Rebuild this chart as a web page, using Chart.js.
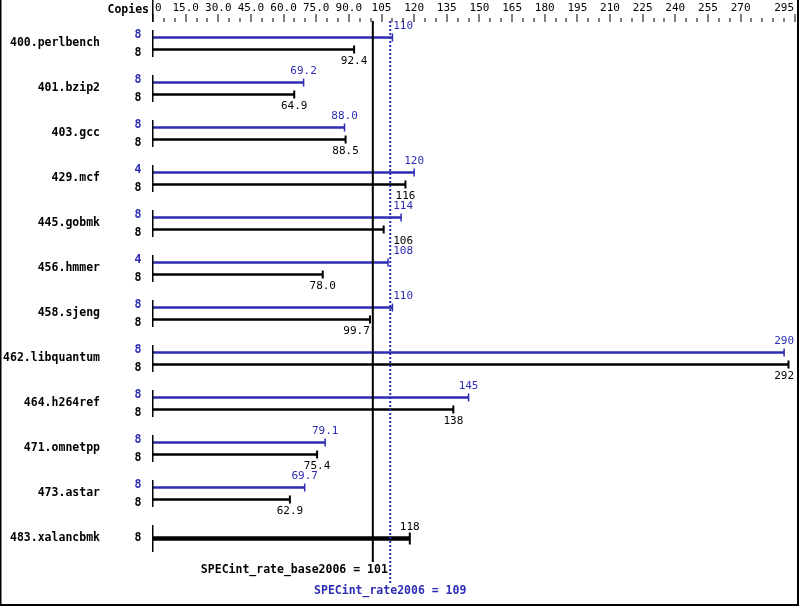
<!DOCTYPE html>
<html><head><meta charset="utf-8">
<script src="https://cdn.jsdelivr.net/npm/chart.js@4.4.0/dist/chart.umd.min.js"></script>
<style>html,body{margin:0;padding:0;background:#fff}#wrap{width:799px;height:606px;position:relative}</style>
</head><body><div id="wrap"><canvas id="c" width="799" height="606"></canvas></div>
<script>
const benchmarks = ['400.perlbench','401.bzip2','403.gcc','429.mcf','445.gobmk','456.hmmer','458.sjeng','462.libquantum','464.h264ref','471.omnetpp','473.astar','483.xalancbmk'];
const peakValues = [110, 69.2, 88.0, 120, 114, 108, 110, 290, 145, 79.1, 69.7, null];
const baseValues = [92.4, 64.9, 88.5, 116, 106, 78.0, 99.7, 292, 138, 75.4, 62.9, null];
const sharedValues = [null, null, null, null, null, null, null, null, null, null, null, 118];
const peakCopies = [8, 8, 8, 4, 8, 4, 8, 8, 8, 8, 8, null];
const baseCopies = [8, 8, 8, 8, 8, 8, 8, 8, 8, 8, 8, 8];
const axisTickValues = [0, 15, 30, 45, 60, 75, 90, 105, 120, 135, 150, 165, 180, 195, 210, 225, 240, 255, 270, 295];
const axisTickLabels = ['0','15.0','30.0','45.0','60.0','75.0','90.0','105','120','135','150','165','180','195','210','225','240','255','270','295'];
const baseMean = 101;
const peakMean = 109;
const baseMeanLabel = 'SPECint_rate_base2006 = 101';
const peakMeanLabel = 'SPECint_rate2006 = 109';

const BLUE = '#2d2db4';
const MONO = '"DejaVu Sans Mono", "Liberation Mono", monospace';

function fmt(v){ return v >= 100 ? String(Math.round(v)) : v.toFixed(1); }

const specPlugin = {
  id: 'spec',
  beforeDraw(chart){
    const c = chart.ctx;
    c.save(); c.fillStyle = '#fff'; c.fillRect(0,0,chart.width,chart.height); c.restore();
  },
  afterDatasetsDraw(chart){
    const c = chart.ctx;
    const xs = chart.scales.x, ys = chart.scales.y;
    const area = chart.chartArea;
    const x0 = xs.getPixelForValue(0);
    const xBase = xs.getPixelForValue(baseMean);
    const xPeak = xs.getPixelForValue(peakMean);
    c.save();
    // row start lines
    c.fillStyle = '#000';
    benchmarks.forEach((b,i)=>{
      const y = ys.getPixelForValue(i);
      c.fillRect(Math.round(x0)-1, y-13.5, 1.5, 27);
    });
    // end ticks
    const metas = [0,1,2].map(i=>chart.getDatasetMeta(i));
    const dsVals = [peakValues, baseValues, sharedValues];
    metas.forEach((m,di)=>{
      m.data.forEach((el,i)=>{
        if (dsVals[di][i] == null) return;
        c.fillStyle = di === 0 ? BLUE : '#000';
        const w = di === 0 ? 1.5 : 2;
        const h = di === 2 ? 12 : 8;
        c.fillRect(el.x - w/2, el.y - h/2, w, h);
      });
    });
    // mean lines
    c.fillStyle = '#000';
    c.fillRect(xBase-1, area.top, 2, area.bottom - area.top + 1);
    c.strokeStyle = BLUE; c.lineWidth = 2; c.setLineDash([2,2]);
    c.beginPath(); c.moveTo(xPeak, area.top); c.lineTo(xPeak, area.bottom + 23); c.stroke();
    c.setLineDash([]);
    // value labels
    c.font = '11px ' + MONO;
    c.textBaseline = 'middle';
    c.textAlign = 'left';
    const lines = [xBase, xPeak];
    const M = 3;
    function place(endX, text){
      const w = c.measureText(text).width;
      const ok = (l)=> !lines.some(lx => lx > l - M && lx < l + w + M);
      const centered = Math.min(endX - w/2, 794 - w);
      if (ok(centered)) return centered;
      const cands = [];
      lines.forEach(lx=>{
        if (endX < lx) cands.push(lx - M - w);
        cands.push(lx + M);
      });
      let best = centered, bd = Infinity;
      cands.forEach(l=>{ if (ok(l) && Math.abs(l - centered) < bd){ bd = Math.abs(l - centered); best = l; } });
      return best;
    }
    metas.forEach((m,di)=>{
      m.data.forEach((el,i)=>{
        const v = dsVals[di][i];
        if (v == null) return;
        const t = fmt(v);
        c.fillStyle = di === 0 ? BLUE : '#000';
        const y = di === 1 ? el.y + 11.5 : el.y - 11.5;
        c.fillText(t, place(el.x, t), y);
      });
    });
    // copies labels
    c.font = 'bold 11.5px ' + MONO;
    c.textAlign = 'center';
    metas[0].data.forEach((el,i)=>{
      if (peakCopies[i] == null || peakValues[i] == null) return;
      c.fillStyle = BLUE; c.fillText(String(peakCopies[i]), 138, el.y - 2.5);
    });
    metas[1].data.forEach((el,i)=>{
      if (baseValues[i] == null) return;
      c.fillStyle = '#000'; c.fillText(String(baseCopies[i]), 138, el.y + 3.5);
    });
    metas[2].data.forEach((el,i)=>{
      if (sharedValues[i] == null) return;
      c.fillStyle = '#000'; c.fillText(String(baseCopies[i]), 138, el.y);
    });
    // top axis
    c.fillStyle = '#000';
    c.textAlign = 'right';
    c.fillText('Copies', 149, 10);
    c.fillRect(Math.round(x0)-1, 0, 1.5, area.top + 1);
    for (let v = 0; v <= 295; v += 5){
      const px = xs.getPixelForValue(v);
      const major = axisTickValues.includes(v);
      const top = major ? 14 : 18;
      c.fillRect(Math.round(px) - 0.5, top, 1, area.top + 1 - top);
    }
    c.font = '11px ' + MONO;
    c.textAlign = 'left';
    axisTickValues.forEach((v,i)=>{
      const px = xs.getPixelForValue(v);
      const t = axisTickLabels[i];
      const w = c.measureText(t).width;
      let left = px - w/2;
      left = Math.max(left, x0 + 2);
      left = Math.min(left, 794 - w);
      c.fillText(t, left, 8);
    });
    // bottom summary labels
    c.font = 'bold 11.5px ' + MONO;
    c.textAlign = 'right'; c.fillStyle = '#000';
    c.fillText(baseMeanLabel, xBase + 15, 570);
    c.textAlign = 'center'; c.fillStyle = BLUE;
    c.fillText(peakMeanLabel, xPeak, 591.5);
    // border
    c.fillStyle = '#000';
    c.fillRect(0, 0, 1.5, chart.height);
    c.fillRect(chart.width - 2, 0, 2, chart.height);
    c.fillRect(0, chart.height - 2, chart.width, 2);
    c.restore();
  }
};

new Chart(document.getElementById('c').getContext('2d'), {
  type: 'bar',
  data: {
    labels: benchmarks,
    datasets: [
      { label: 'peak', data: peakValues, backgroundColor: BLUE, categoryPercentage: 0.5333, barPercentage: 0.2 },
      { label: 'base', data: baseValues, backgroundColor: '#000', categoryPercentage: 0.5333, barPercentage: 0.2 },
      { label: 'base=peak', data: sharedValues, backgroundColor: '#000', grouped: false, barThickness: 4 }
    ]
  },
  options: {
    indexAxis: 'y',
    responsive: false,
    animation: false,
    layout: { padding: { top: 21, right: 4, bottom: 45, left: 0 } },
    plugins: { legend: { display: false }, tooltip: { enabled: false } },
    scales: {
      x: { type: 'linear', min: 0, max: 295, display: false },
      y: {
        position: 'left',
        grid: { display: false, drawTicks: false },
        border: { display: false },
        ticks: { font: { family: MONO, weight: 'bold', size: 11.5 }, color: '#000', padding: 53 },
        afterFit(s){ s.width = 153; s.paddingTop = 0; s.paddingBottom = 0; }
      }
    }
  },
  plugins: [specPlugin]
});
</script>
</body></html>
